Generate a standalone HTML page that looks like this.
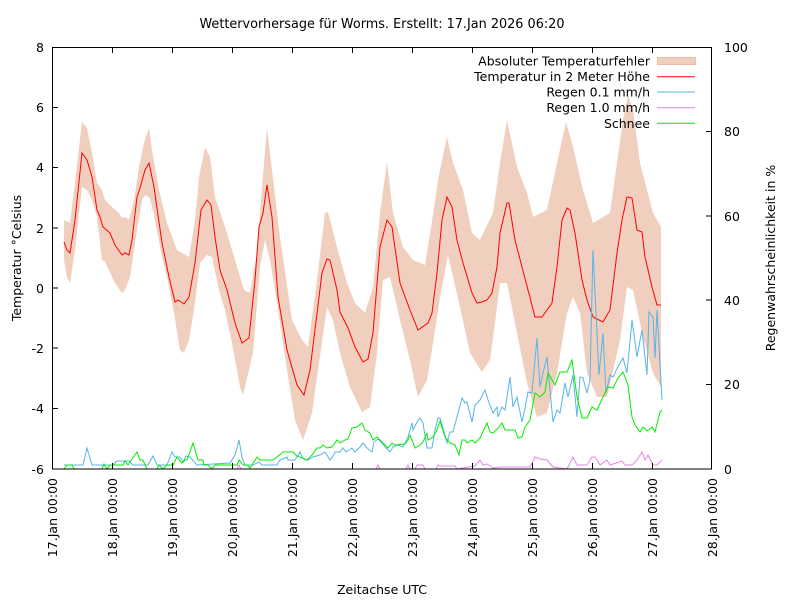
<!DOCTYPE html>
<html><head><meta charset="utf-8"><style>
html,body{margin:0;padding:0;background:#fff;}
svg{display:block;}
text{font-family:"DejaVu Sans","Liberation Sans",sans-serif;fill:#000;}
</style></head><body>
<svg width="800" height="600" viewBox="0 0 800 600" xmlns="http://www.w3.org/2000/svg">
<defs><clipPath id="pa"><rect x="52" y="47" width="660" height="422"/></clipPath></defs>
<rect width="800" height="600" fill="#fff"/>
<text x="382" y="28" font-size="13" text-anchor="middle" textLength="365" lengthAdjust="spacingAndGlyphs">Wettervorhersage für Worms. Erstellt: 17.Jan 2026 06:20</text>
<g clip-path="url(#pa)">
<polygon fill="#f0cfbe" points="64,220 70,223 75,183 82,122 87,128 92,153 97,183 102,190 105,200 112,207 119,213 122,218 125,217 129,220 134,200 139,167 144,143 149,128 152,150 159,190 167,223 177,250 182,253 189,257 195,220 199,177 205,147 210,157 215,197 225,227 235,260 244,290 250,293 257,253 262,187 267,128 272,170 280,237 292,320 302,340 308,347 317,280 325,213 328,212 337,247 347,283 355,303 365,313 373,287 380,213 387,162 393,213 403,247 413,260 425,265 433,215 438,180 447,137 453,163 463,190 472,233 480,240 493,213 500,163 507,120 517,167 527,193 533,217 547,210 557,163 566,122 573,147 583,190 593,223 610,213 617,163 623,120 628,95 633,110 640,163 653,213 661,227 661,387 653,373 643,337 633,290 627,287 620,340 607,397 597,397 587,373 580,313 573,297 567,313 557,373 547,413 537,417 527,383 517,333 507,283 500,283 495,323 490,360 482,372 470,353 460,307 448,255 440,298 433,343 427,380 418,397 410,360 400,320 390,277 383,280 377,353 370,407 362,412 350,387 340,353 333,320 327,307 317,377 312,413 303,440 295,420 287,370 277,303 270,260 265,240 260,267 253,353 243,395 240,387 232,343 225,310 219,290 212,257 207,255 200,263 194,310 189,340 184,353 180,350 174,313 167,277 162,257 155,220 150,198 145,195 142,200 137,230 130,277 125,290 122,293 115,283 112,277 105,262 102,260 97,217 92,200 87,190 82,187 75,250 70,283 67,277 64,260"/>
<polyline fill="none" stroke="#ff0000" stroke-width="1" points="64,242 67,250 70,253 75,220 82,153 87,160 92,177 97,210 100,217 103,227 110,233 115,245 122,255 125,253 129,255 132,240 137,197 140,188 145,170 149,163 154,187 162,243 169,277 175,302 178,300 184,304 189,297 195,263 201,210 207,200 211,205 215,237 220,270 227,290 235,323 242,343 249,338 255,280 259,227 263,213 267,185 272,217 278,297 287,350 297,385 304,395 310,370 322,273 327,259 330,260 337,290 340,312 348,328 355,347 363,362 368,359 373,333 380,247 387,220 392,227 400,283 410,310 418,330 428,323 432,313 437,273 442,220 447,197 452,207 457,240 463,263 472,293 477,303 482,302 487,300 492,293 497,267 500,233 507,203 509,203 515,240 522,267 528,290 535,317 542,317 552,303 557,267 562,220 567,208 570,210 575,233 582,280 587,300 593,317 603,322 610,310 617,253 622,220 627,197 632,198 637,230 642,232 645,257 652,287 657,305 661,305"/>
<polyline fill="none" stroke="#56b4e9" stroke-width="1" points="64,465 83,465 87,448 92,465 113,465 117,461 129,461 133,465 148,465 153,456 157,465 167,465 172,452 175,457 180,457 183,462 186,456 190,457 197,465 230,463 235,455 239,440 242,457 245,465 253,465 259,462 262,465 277,465 280,460 287,457 288,460 295,460 300,452 302,457 305,460 308,460 313,457 320,455 325,452 330,460 333,456 335,452 340,452 343,448 346,452 352,448 355,452 360,447 363,443 367,448 372,452 374,442 378,439 382,443 385,447 390,452 393,447 398,445 403,447 408,437 412,423 413,430 417,422 420,418 423,423 427,448 432,448 435,430 438,418 440,418 443,428 447,443 450,432 453,432 458,413 462,398 465,403 467,402 472,422 475,405 480,400 485,390 488,400 493,413 497,407 498,417 502,407 505,410 510,377 513,407 517,397 522,422 525,408 528,392 532,393 537,338 540,387 543,373 547,357 550,390 553,422 557,410 560,413 565,383 568,397 573,375 577,417 580,377 583,378 587,393 590,380 593,250 599,375 603,333 606,393 610,375 613,377 618,367 623,358 627,373 632,320 637,357 642,330 647,375 649,312 653,317 655,358 657,310 662,400"/>
<polyline fill="none" stroke="#e884e8" stroke-width="1" points="64,469 237,469 239,465 241,469 376,469 378,465 380,469 406,469 408,465 410,469 415,469 417,465 423,465 425,469 436,469 438,465 440,466 455,466 457,469 475,466 480,460 483,465 487,464 493,468 500,467 530,467 535,457 540,459 547,460 553,467 567,469 573,457 577,465 587,465 592,457 595,457 600,465 607,460 610,465 622,461 625,465 632,465 637,460 642,452 645,460 648,455 653,465 657,465 662,460"/>
<polyline fill="none" stroke="#00ee00" stroke-width="1" points="64,469 67,465 72,465 74,469 102,469 104,464 107,469 110,465 123,465 125,461 128,465 137,452 140,460 143,460 147,469 157,469 159,465 163,469 167,465 173,465 177,457 182,463 185,460 187,460 193,443 198,460 203,460 204,465 208,465 212,469 215,465 237,465 239,460 243,465 247,465 250,468 257,457 260,460 273,460 277,457 283,452 293,452 297,456 307,460 312,455 317,448 320,448 323,445 327,448 332,447 337,440 340,443 345,440 348,439 352,428 357,427 362,423 365,430 370,433 373,440 377,437 382,442 385,445 388,448 392,443 395,445 405,444 408,440 410,435 415,448 420,445 423,442 427,433 428,440 433,437 437,430 440,421 445,437 450,443 455,445 459,455 462,440 465,440 467,443 472,440 475,443 480,438 487,423 490,432 493,433 498,428 502,423 505,430 515,430 518,438 522,437 525,427 530,420 535,393 540,397 545,392 548,373 555,385 560,372 567,372 572,360 577,397 582,418 587,418 592,407 597,410 603,397 608,387 613,388 618,378 623,372 628,385 632,417 635,425 640,432 643,427 647,431 652,427 655,432 660,412 662,410"/>
</g>
<g stroke="#000" stroke-width="1" fill="none">
<rect x="52.5" y="47.5" width="659" height="421.5"/>
<path d="M52 107.5h6M52 167.5h6M52 228h6M52 288h6M52 348h6M52 408.5h6M712 131.5h-6M712 216h-6M712 300h-6M712 384.5h-6"/>
<path d="M112.5 469v-6M172.5 469v-6M232.5 469v-6M292.5 469v-6M352.5 469v-6M412.5 469v-6M472.5 469v-6M532.5 469v-6M592.5 469v-6M652.5 469v-6M112.5 47v6M172.5 47v6M232.5 47v6M292.5 47v6M352.5 47v6M412.5 47v6M472.5 47v6M532.5 47v6M592.5 47v6M652.5 47v6"/>
</g>
<g font-size="12.5" text-anchor="end">
<text x="44" y="52">8</text>
<text x="44" y="112">6</text>
<text x="44" y="172">4</text>
<text x="44" y="233">2</text>
<text x="44" y="293">0</text>
<text x="44" y="353">-2</text>
<text x="44" y="413">-4</text>
<text x="44" y="474">-6</text>
</g>
<g font-size="12.5" text-anchor="start">
<text x="724" y="52">100</text>
<text x="724" y="136">80</text>
<text x="724" y="221">60</text>
<text x="724" y="305">40</text>
<text x="724" y="389">20</text>
<text x="724" y="474">0</text>
</g>
<g font-size="12.5" text-anchor="end">
<text transform="translate(57,478) rotate(-90)">17.Jan 00:00</text>
<text transform="translate(117,478) rotate(-90)">18.Jan 00:00</text>
<text transform="translate(177,478) rotate(-90)">19.Jan 00:00</text>
<text transform="translate(237,478) rotate(-90)">20.Jan 00:00</text>
<text transform="translate(297,478) rotate(-90)">21.Jan 00:00</text>
<text transform="translate(357,478) rotate(-90)">22.Jan 00:00</text>
<text transform="translate(417,478) rotate(-90)">23.Jan 00:00</text>
<text transform="translate(477,478) rotate(-90)">24.Jan 00:00</text>
<text transform="translate(537,478) rotate(-90)">25.Jan 00:00</text>
<text transform="translate(597,478) rotate(-90)">26.Jan 00:00</text>
<text transform="translate(657,478) rotate(-90)">27.Jan 00:00</text>
<text transform="translate(717,478) rotate(-90)">28.Jan 00:00</text>
</g>
<text font-size="12.5" text-anchor="middle" transform="translate(21,258) rotate(-90)">Temperatur °Celsius</text>
<text font-size="12.5" text-anchor="middle" transform="translate(775,258) rotate(-90)">Regenwahrscheinlichkeit in %</text>
<text font-size="12.5" text-anchor="middle" x="382" y="594">Zeitachse UTC</text>
<g font-size="12.5" text-anchor="end">
<text x="650" y="65.5">Absoluter Temperaturfehler</text>
<text x="650" y="81">Temperatur in 2 Meter Höhe</text>
<text x="650" y="96.5">Regen 0.1 mm/h</text>
<text x="650" y="112">Regen 1.0 mm/h</text>
<text x="650" y="128">Schnee</text>
</g>
<rect x="657.5" y="57.5" width="38" height="7" fill="#f0cfbe" stroke="#e8bfa8" stroke-width="1"/>
<path d="M657 76.7h38" stroke="#ff0000"/>
<path d="M657 92h38" stroke="#56b4e9"/>
<path d="M657 107.7h38" stroke="#e884e8"/>
<path d="M657 123.3h38" stroke="#00ee00"/>
</svg>
</body></html>
